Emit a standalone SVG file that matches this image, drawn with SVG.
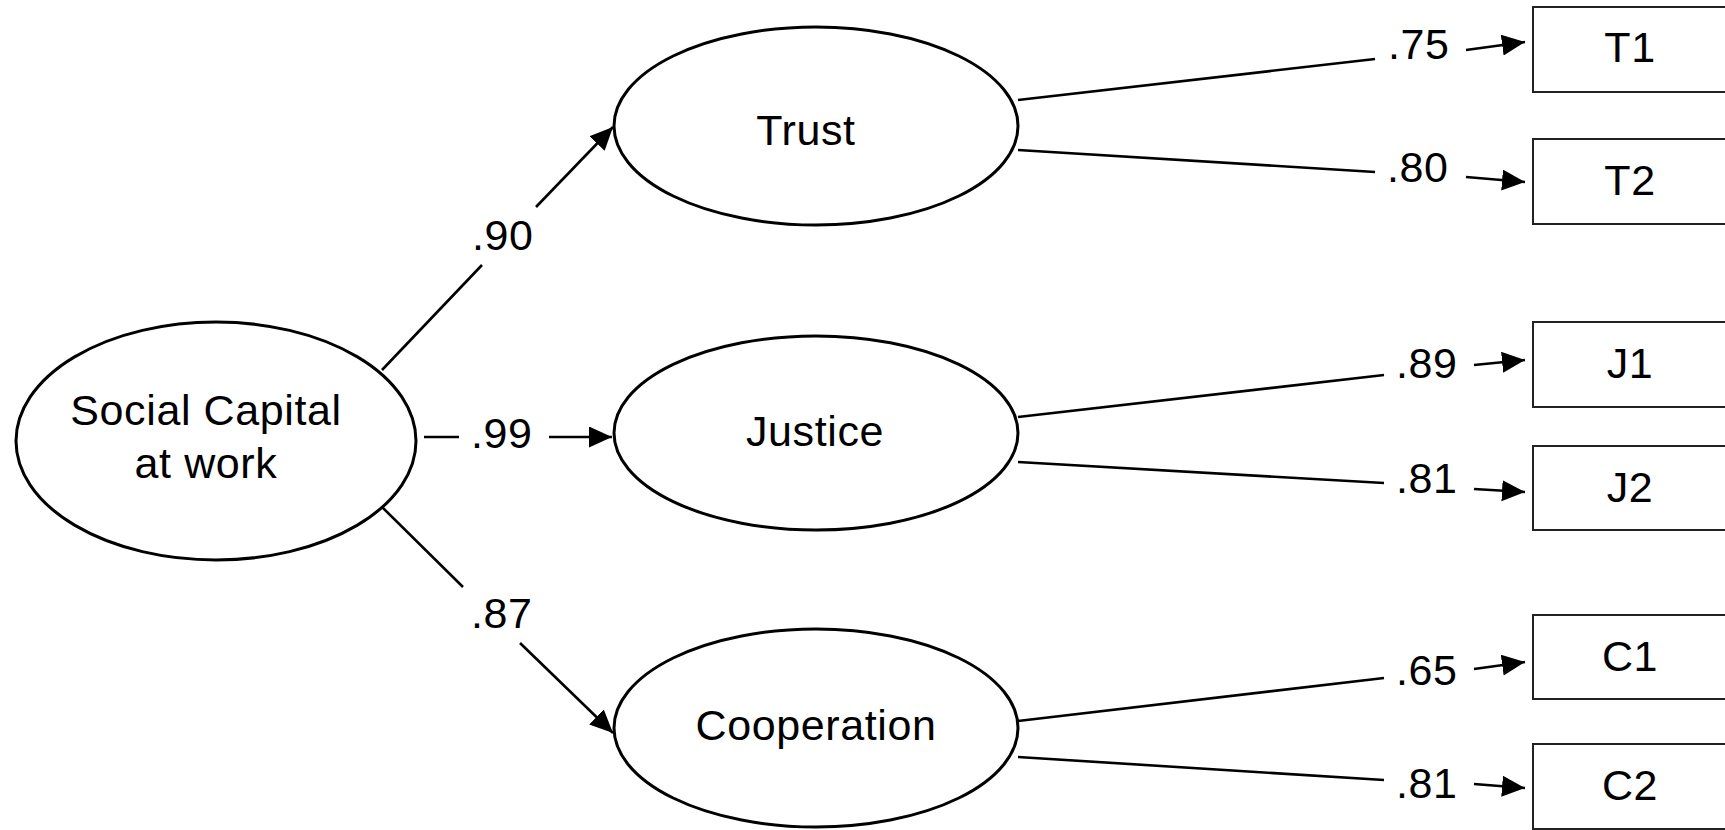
<svg xmlns="http://www.w3.org/2000/svg" width="1725" height="830" viewBox="0 0 1725 830">
<style>
text{font-family:"Liberation Sans",Arial,sans-serif;font-size:43px;letter-spacing:0.6px;fill:#000}
.lat{fill:#fff;stroke:#000;stroke-width:3}
.obs{fill:#fff;stroke:#222;stroke-width:2}
.c{stroke:#000;stroke-width:2.6;fill:none}
.a{stroke:#000;stroke-width:2.6;fill:none;marker-end:url(#ah)}
.m{text-anchor:middle}
</style>
<defs>
<marker id="ah" markerUnits="userSpaceOnUse" markerWidth="26" markerHeight="24" refX="23" refY="10.5" orient="auto" viewBox="0 0 26 24">
<path d="M0,0 L23,10.5 L0,21 z" fill="#000"/>
</marker>
</defs>
<rect width="1725" height="830" fill="#fff"/>
<g id="connectors">
<line class="c" x1="382" y1="370" x2="482" y2="265"/>
<line class="a" x1="536" y1="207" x2="613" y2="127"/>
<text x="472" y="250">.90</text>
<line class="c" x1="424" y1="437" x2="459" y2="437"/>
<line class="a" x1="549" y1="437" x2="612" y2="437"/>
<text x="471" y="448">.99</text>
<line class="c" x1="382" y1="507" x2="463" y2="587"/>
<line class="a" x1="520" y1="643" x2="613" y2="733"/>
<text x="471" y="628">.87</text>
<line class="c" x1="1018" y1="100" x2="1375" y2="59"/>
<line class="a" x1="1466" y1="50" x2="1525" y2="42"/>
<text x="1388" y="59">.75</text>
<line class="c" x1="1018" y1="150" x2="1375" y2="172"/>
<line class="a" x1="1466" y1="177" x2="1525" y2="182"/>
<text x="1387" y="182">.80</text>
<line class="c" x1="1018" y1="417" x2="1384" y2="375"/>
<line class="a" x1="1474" y1="365" x2="1525" y2="360"/>
<text x="1396" y="378">.89</text>
<line class="c" x1="1018" y1="462" x2="1384" y2="483"/>
<line class="a" x1="1474" y1="489" x2="1525" y2="492"/>
<text x="1396" y="493">.81</text>
<line class="c" x1="1018" y1="721" x2="1384" y2="678"/>
<line class="a" x1="1474" y1="669" x2="1525" y2="662"/>
<text x="1396" y="685">.65</text>
<line class="c" x1="1018" y1="757" x2="1384" y2="780"/>
<line class="a" x1="1474" y1="784" x2="1525" y2="788"/>
<text x="1396" y="798">.81</text>
</g>
<g id="social">
<ellipse class="lat" cx="216" cy="441" rx="200" ry="119"/>
<text class="m" x="206" y="425">Social Capital</text>
<text class="m" x="206" y="478">at work</text>
</g>
<g id="trust">
<ellipse class="lat" cx="816" cy="126" rx="202" ry="99"/>
<text class="m" x="806" y="145">Trust</text>
</g>
<g id="justice">
<ellipse class="lat" cx="816" cy="433" rx="202" ry="97"/>
<text class="m" x="815" y="446">Justice</text>
</g>
<g id="cooperation">
<ellipse class="lat" cx="816" cy="728" rx="202" ry="99"/>
<text class="m" x="816" y="740">Cooperation</text>
</g>
<g id="T1"><rect class="obs" x="1533" y="7" width="200" height="85"/><text class="m" x="1630" y="62">T1</text></g>
<g id="T2"><rect class="obs" x="1533" y="139" width="200" height="85"/><text class="m" x="1630" y="195">T2</text></g>
<g id="J1"><rect class="obs" x="1533" y="322" width="200" height="85"/><text class="m" x="1630" y="378">J1</text></g>
<g id="J2"><rect class="obs" x="1533" y="446" width="200" height="84"/><text class="m" x="1630" y="502">J2</text></g>
<g id="C1"><rect class="obs" x="1533" y="615" width="200" height="84"/><text class="m" x="1630" y="671">C1</text></g>
<g id="C2"><rect class="obs" x="1533" y="744" width="200" height="85"/><text class="m" x="1630" y="800">C2</text></g>
</svg>
